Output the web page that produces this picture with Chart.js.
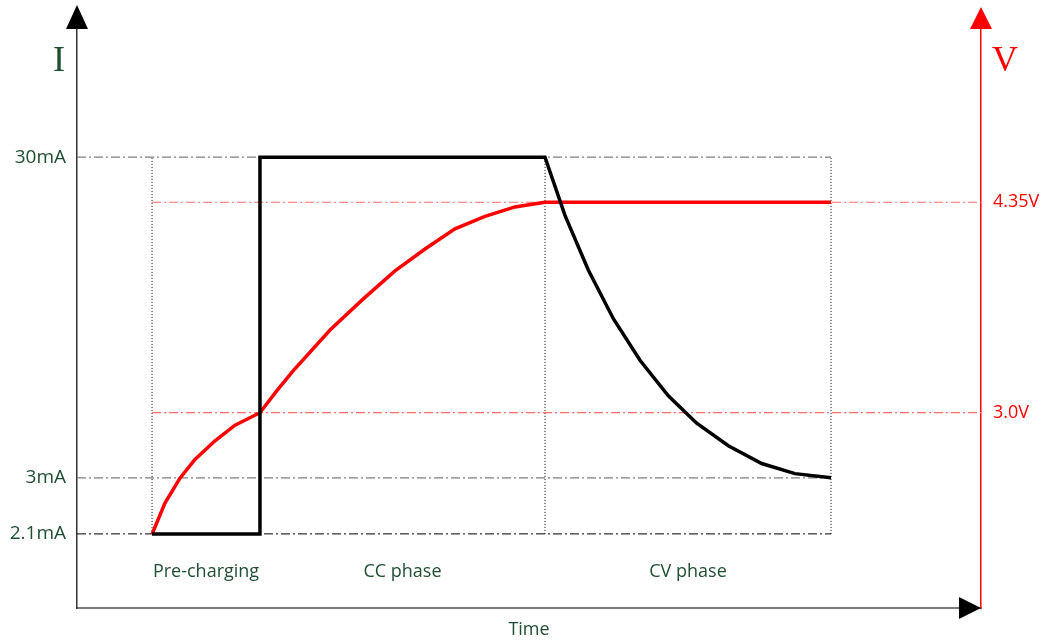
<!DOCTYPE html>
<html>
<head>
<meta charset="utf-8">
<script src="https://cdn.jsdelivr.net/npm/chart.js@4/dist/chart.umd.min.js"></script>
<style>
  html, body { margin: 0; padding: 0; background: #fff; }
  #wrap { width: 1045px; height: 641px; }
</style>
</head>
<body>
<div id="wrap"><canvas id="c" width="1045" height="641"></canvas></div>
<script>
// ---------------- data ----------------
// time in arbitrary units (0..100 across the time axis)
const phaseBounds = [8.3, 20.24, 51.77, 83.41];
const phaseNames = ['Pre-charging', 'CC phase', 'CV phase'];

// charge current (mA)
const currentTime = [8.3, 20.24, 20.24, 51.77, 53.98, 56.56, 59.33, 62.28, 65.41, 68.55, 72.05, 75.74, 79.42, 83.41];
const currentMA   = [2.1, 2.1,   30,    30,    25.1,  20.5,  16.4,  12.9,  9.9,   7.6,   5.7,   4.2,   3.35,  3.0];

// battery voltage (V)
const voltageTime = [8.3, 9.73, 11.39, 13.05, 15.27, 17.48, 20.24, 22.09, 23.93, 27.99, 31.67, 35.18, 38.50, 41.81, 45.13, 48.45, 51.77, 83.41];
const voltageV    = [2.22, 2.42, 2.58, 2.70, 2.82, 2.92, 3.0,  3.14,  3.27,  3.53,  3.73,  3.91,  4.05,  4.18,  4.26,  4.32,  4.35,  4.35];

// axis ticks
const currentTicks = [2.1, 3, 30];
const currentTickLabels = ['2.1mA', '3mA', '30mA'];
const voltageTicks = [3.0, 4.35];
const voltageTickLabels = ['3.0V', '4.35V'];

// ---------------- segmented current scale ----------------
// schematic current axis: breakpoints (mA) and their share of the axis height
const I_BREAKS = [0, 2.1, 3, 30, 40.9];
const I_FRACS  = [0, 0.1278, 0.2245, 0.7772, 1];

class SegmentedScale extends Chart.LinearScale {
  buildTicks() {
    return currentTicks.map(v => ({ value: v }));
  }
  getPixelForValue(value) {
    let i = 1;
    while (i < I_BREAKS.length - 1 && value > I_BREAKS[i]) i++;
    const t = (value - I_BREAKS[i - 1]) / (I_BREAKS[i] - I_BREAKS[i - 1]);
    const dec = I_FRACS[i - 1] + t * (I_FRACS[i] - I_FRACS[i - 1]);
    return this.getPixelForDecimal(dec);
  }
  getValueForPixel(pixel) {
    const dec = this.getDecimalForPixel(pixel);
    let i = 1;
    while (i < I_FRACS.length - 1 && dec > I_FRACS[i]) i++;
    const t = (dec - I_FRACS[i - 1]) / (I_FRACS[i] - I_FRACS[i - 1]);
    return I_BREAKS[i - 1] + t * (I_BREAKS[i] - I_BREAKS[i - 1]);
  }
}
SegmentedScale.id = 'segmented';
SegmentedScale.defaults = {};
Chart.register(SegmentedScale);

// ---------------- helpers ----------------
const GREEN = '#1f4f30';
const pts = (xs, ys) => xs.map((x, i) => ({ x: x, y: ys[i] }));
const DASHDOT = [9, 3, 2, 3];

const refLine = (xs, ys, axis, color, dash, width) => ({
  data: pts(xs, ys), yAxisID: axis, borderColor: color, borderWidth: width,
  borderDash: dash, pointRadius: 0, fill: false, tension: 0, order: 10
});

const xStart = 0, xEnd = 100;
const p0 = phaseBounds[0], pEnd = phaseBounds[3];

const datasets = [
  { label: 'I', data: pts(currentTime, currentMA), yAxisID: 'yI', borderColor: '#000', borderWidth: 3.5,
    pointRadius: 0, tension: 0, fill: false, order: 1, borderJoinStyle: 'miter', borderCapStyle: 'butt' },
  { label: 'V', data: pts(voltageTime, voltageV), yAxisID: 'yV', borderColor: '#ff0000', borderWidth: 3.5,
    pointRadius: 0, tension: 0, fill: false, order: 2 },
  // current reference lines
  refLine([xStart, pEnd], [currentTicks[2], currentTicks[2]], 'yI', '#7f7f7f', DASHDOT, 1.3),
  refLine([xStart, pEnd], [currentTicks[1], currentTicks[1]], 'yI', '#7f7f7f', DASHDOT, 1.3),
  refLine([xStart, pEnd], [currentTicks[0], currentTicks[0]], 'yI', '#000000', DASHDOT, 1),
  // voltage reference lines
  refLine([p0, xEnd], [voltageTicks[1], voltageTicks[1]], 'yV', '#ff6b6b', DASHDOT, 1.2),
  refLine([p0, xEnd], [voltageTicks[0], voltageTicks[0]], 'yV', '#ff6b6b', DASHDOT, 1.2),
  // phase separators
  refLine([phaseBounds[0], phaseBounds[0]], [currentTicks[0], currentTicks[2]], 'yI', '#000', [1, 2], 1),
  refLine([phaseBounds[2], phaseBounds[2]], [currentTicks[0], currentTicks[2]], 'yI', '#000', [1, 2], 1),
  refLine([phaseBounds[3], phaseBounds[3]], [currentTicks[0], currentTicks[2]], 'yI', '#000', [1, 2], 1),
];

// ---------------- decoration plugin ----------------
const decor = {
  id: 'decor',
  afterDraw(chart) {
    const { ctx, chartArea: a, scales } = chart;
    const xs = scales.x;
    ctx.save();
    // arrows
    const tri = (p1, p2, p3, color) => {
      ctx.beginPath(); ctx.moveTo(p1[0], p1[1]); ctx.lineTo(p2[0], p2[1]); ctx.lineTo(p3[0], p3[1]);
      ctx.closePath(); ctx.fillStyle = color; ctx.fill();
    };
    tri([a.left, a.top - 23], [a.left - 11, a.top + 1], [a.left + 11, a.top + 1], '#000');
    tri([a.right, a.top - 21], [a.right - 11, a.top + 1], [a.right + 11, a.top + 1], '#ff0000');
    tri([a.right, a.bottom], [a.right - 22, a.bottom - 11], [a.right - 22, a.bottom + 11], '#000');
    // axis letters
    ctx.font = '36px "Liberation Serif", "DejaVu Serif", serif';
    ctx.textAlign = 'center'; ctx.textBaseline = 'middle';
    ctx.fillStyle = GREEN;
    ctx.fillText('I', a.left - 18, a.top + 34);
    ctx.fillStyle = '#ff0000';
    ctx.fillText('V', a.right + 24, a.top + 34);
    // phase names
    ctx.font = '18px "Open Sans", "Noto Sans", sans-serif';
    ctx.fillStyle = GREEN;
    for (let i = 0; i < phaseNames.length; i++) {
      const cx = xs.getPixelForValue((phaseBounds[i] + phaseBounds[i + 1]) / 2);
      ctx.fillText(phaseNames[i], cx, a.bottom - 36);
    }
    ctx.restore();
  }
};

new Chart(document.getElementById('c'), {
  type: 'line',
  data: { datasets },
  plugins: [decor],
  options: {
    responsive: false,
    animation: false,
    devicePixelRatio: 1,
    layout: { padding: { top: 28, left: 0, right: 0, bottom: 0 } },
    plugins: { legend: { display: false }, tooltip: { enabled: false } },
    elements: { line: { borderCapStyle: 'butt' } },
    scales: {
      x: {
        type: 'linear', min: xStart, max: xEnd,
        grid: { display: false },
        border: { display: true, color: '#7a7a7a', width: 2 },
        ticks: { display: false },
        title: { display: true, text: 'Time', color: GREEN, font: { family: 'Open Sans', size: 18 }, padding: { top: 10, bottom: 0 } },
        afterFit(s) { s.height = 33; }
      },
      yI: {
        type: 'segmented', position: 'left', min: 0, max: 40.9,
        grid: { display: false },
        border: { display: true, color: '#333333', width: 1.5 },
        ticks: { color: GREEN, font: { family: 'Open Sans', size: 19 }, padding: 3,
                 callback: (v, i) => currentTickLabels[i] },
        afterFit(s) { s.width = 77; }
      },
      yV: {
        type: 'linear', position: 'right', min: 1.747, max: 5.468,
        grid: { display: false },
        border: { display: true, color: '#ff0000', width: 1.5 },
        afterBuildTicks(s) { s.ticks = voltageTicks.map(v => ({ value: v })); },
        ticks: { color: '#ff0000', font: { family: 'Open Sans', size: 18 }, padding: 4,
                 callback: (v, i) => voltageTickLabels[i] },
        afterFit(s) { s.width = 64; }
      }
    }
  }
});
</script>
</body>
</html>
